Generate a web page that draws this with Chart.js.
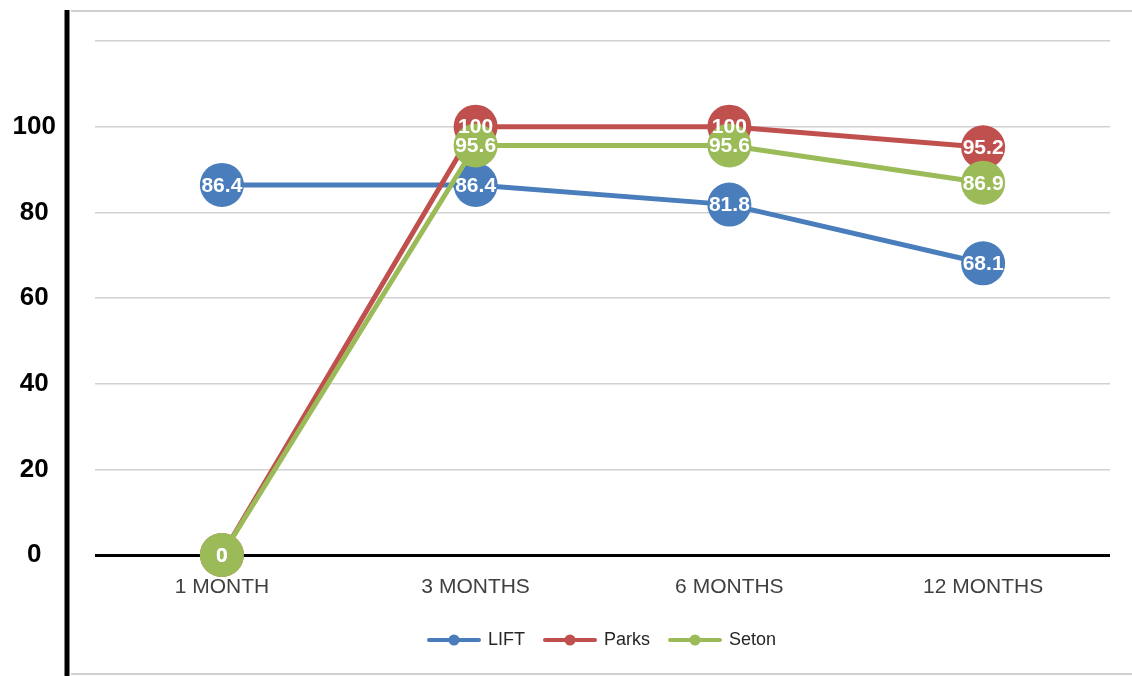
<!DOCTYPE html>
<html>
<head>
<meta charset="utf-8">
<script src="https://cdn.jsdelivr.net/npm/chart.js@4/dist/chart.umd.min.js"></script>
<style>
  html, body { margin: 0; padding: 0; background: #fff; }
  #wrap { width: 1132px; height: 676px; position: relative; }
</style>
</head>
<body>
<div id="wrap"><canvas id="c" width="1132" height="676"></canvas></div>
<script>
// Follow-up periods and completion rates per site
const categories = ['1 MONTH', '3 MONTHS', '6 MONTHS', '12 MONTHS'];
const liftValues = [86.4, 86.4, 81.8, 68.1];
const parksValues = [0, 100, 100, 95.2];
const setonValues = [0, 95.6, 95.6, 86.9];
const yTicks = [0, 20, 40, 60, 80, 100];

const BLUE = '#4a7dbc';
const RED = '#c0504d';
const GREEN = '#9bbb59';
const FONT = '"Liberation Sans", Arial, sans-serif';

// Legend marker: a short line with a dot in the middle
function legendMarker(color) {
  const c = document.createElement('canvas');
  c.width = 54; c.height = 12;
  const g = c.getContext('2d');
  g.strokeStyle = color;
  g.lineWidth = 4;
  g.lineCap = 'round';
  g.beginPath(); g.moveTo(2, 6); g.lineTo(52, 6); g.stroke();
  g.fillStyle = color;
  g.beginPath(); g.arc(27, 6, 5.5, 0, Math.PI * 2); g.fill();
  return c;
}

// Outer frame: heavy black left rule and light border lines
const framePlugin = {
  id: 'frame',
  beforeDraw(chart) {
    const { ctx, width, height, chartArea } = chart;
    ctx.save();
    ctx.fillStyle = '#fff';
    ctx.fillRect(0, 0, width, height);
    ctx.strokeStyle = '#d0d0d0';
    ctx.lineWidth = 2;
    ctx.beginPath(); ctx.moveTo(chartArea.left - 24, 11); ctx.lineTo(width, 11); ctx.stroke();
    ctx.beginPath(); ctx.moveTo(chartArea.left - 24, height - 2); ctx.lineTo(width, height - 2); ctx.stroke();
    ctx.strokeStyle = '#000';
    ctx.lineWidth = 5;
    ctx.beginPath(); ctx.moveTo(chartArea.left - 28, 10); ctx.lineTo(chartArea.left - 28, height); ctx.stroke();
    ctx.restore();
  }
};

// Value labels written inside each marker
const valueLabelPlugin = {
  id: 'valueLabels',
  afterDatasetsDraw(chart) {
    const { ctx } = chart;
    ctx.save();
    ctx.font = 'bold 21px ' + FONT;
    ctx.fillStyle = '#fff';
    ctx.textAlign = 'center';
    ctx.textBaseline = 'middle';
    chart.data.datasets.forEach((ds, i) => {
      const meta = chart.getDatasetMeta(i);
      meta.data.forEach((pt, j) => {
        ctx.fillText(String(ds.data[j]), pt.x, pt.y + 1);
      });
    });
    ctx.restore();
  }
};

function series(label, data, color, order) {
  return {
    label, data, order,
    clip: false,
    borderColor: color,
    backgroundColor: color,
    borderWidth: 5,
    pointStyle: 'circle',
    pointRadius: 22,
    pointHoverRadius: 22,
    pointBorderWidth: 0,
    pointBackgroundColor: color,
    tension: 0
  };
}

new Chart(document.getElementById('c'), {
  type: 'line',
  data: {
    labels: categories,
    datasets: [
      series('LIFT', liftValues, BLUE, 2),
      series('Parks', parksValues, RED, 1),
      series('Seton', setonValues, GREEN, 0)
    ]
  },
  options: {
    responsive: false,
    animation: false,
    events: [],
    layout: { padding: { top: 41, right: 22, bottom: 17, left: 0 } },
    plugins: {
      legend: {
        position: 'bottom',
        fullSize: false,
        labels: {
          usePointStyle: true,
          pointStyleWidth: 50,
          padding: 20,
          color: '#262626',
          font: { family: FONT, size: 18 },
          sort: (a, b) => a.datasetIndex - b.datasetIndex,
          generateLabels(chart) {
            return chart.data.datasets.map((ds, i) => ({
              text: ds.label,
              datasetIndex: i,
              pointStyle: legendMarker(ds.borderColor),
              fillStyle: ds.borderColor,
              strokeStyle: ds.borderColor,
              lineWidth: 0,
              hidden: false,
              fontColor: '#262626'
            }));
          }
        }
      },
      tooltip: { enabled: false }
    },
    scales: {
      x: {
        offset: true,
        grid: { display: false, drawTicks: false },
        border: { display: false },
        ticks: {
          padding: 20,
          color: '#404040',
          font: { family: FONT, size: 21 }
        },
        afterFit(scale) { scale.height = 56; }
      },
      y: {
        min: 0,
        max: 120,
        border: { display: false },
        grid: {
          drawTicks: false,
          color: c => (c.tick && c.tick.value === 0 ? '#000' : '#d2d2d2'),
          lineWidth: c => (c.tick && c.tick.value === 0 ? 3 : 1.5)
        },
        afterBuildTicks(scale) {
          scale.ticks = yTicks.concat([120]).map(v => ({ value: v }));
        },
        ticks: {
          crossAlign: 'center',
          padding: 39,
          color: '#000',
          font: { family: FONT, size: 26, weight: 'bold' },
          callback: v => (yTicks.includes(v) ? String(v) : '')
        },
        afterFit(scale) {
          scale.width = 95;
          scale.paddingTop = 0;
          scale.paddingBottom = 0;
        }
      }
    }
  },
  plugins: [framePlugin, valueLabelPlugin]
});
</script>
</body>
</html>
